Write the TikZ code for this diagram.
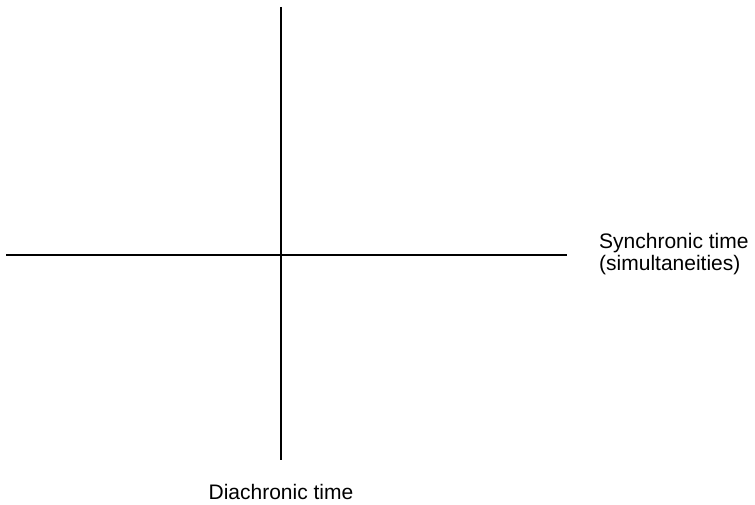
\documentclass[tikz,border=0pt]{standalone}
\usepackage{fontspec}
\setmainfont{Liberation Sans}
\usepackage{tikz}
\usetikzlibrary{positioning}

\begin{document}
\begin{tikzpicture}[
      x=1pt, y=1pt,
      axis/.style={line width=2pt},
      label/.style={inner sep=0pt, font=\fontsize{21}{22}\selectfont}
    ]
      \useasboundingbox (0,0) rectangle (755,505);
      \coordinate (west) at (6,250);
      \coordinate (east) at (567,250);
      \coordinate (north) at (281,498);
      \coordinate (south) at (281,45);

      \draw[axis] (west) -- (east);
      \draw[axis] (north) -- (south);

      \node[label, anchor=west, align=left] (sync) at (599,251) {Synchronic time\\(simultaneities)};
      \node[label, anchor=base] (diachr) at (281,5) {Diachronic time};
    \end{tikzpicture}
\end{document}
